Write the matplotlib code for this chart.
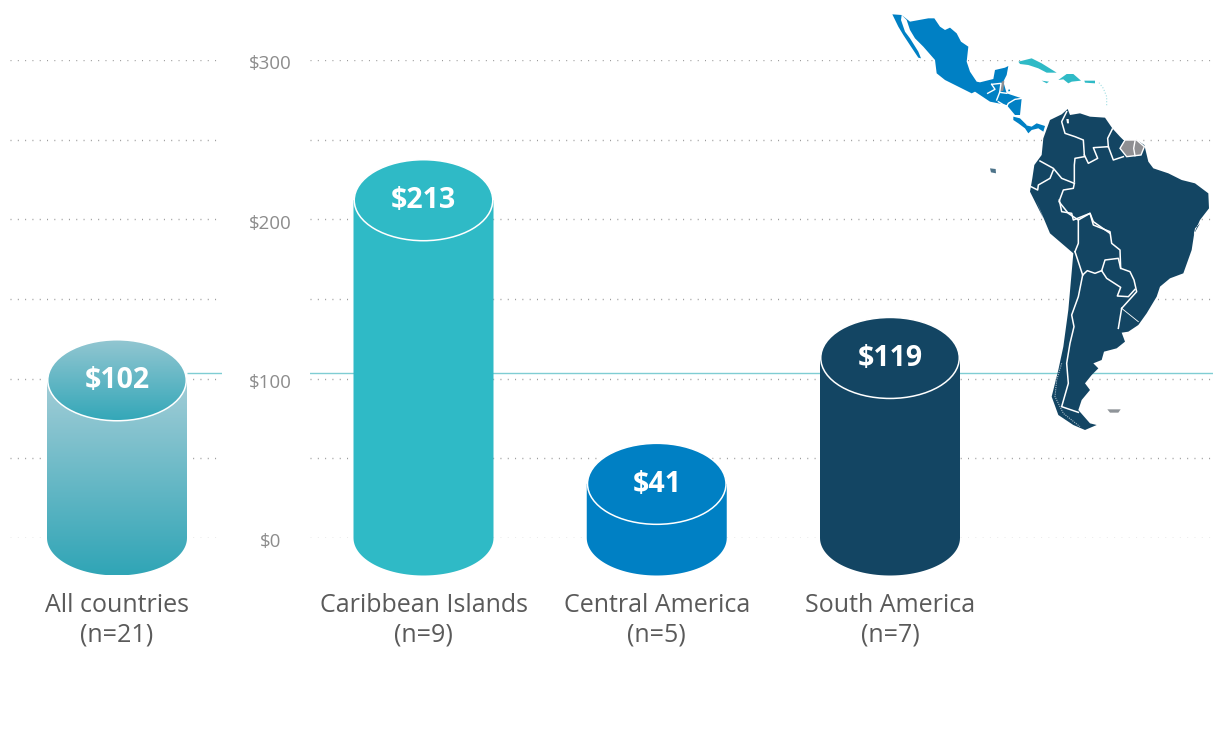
import numpy as np
import matplotlib
matplotlib.use("Agg")
import matplotlib.pyplot as plt
from matplotlib.patches import Ellipse, Polygon, PathPatch
from matplotlib.path import Path
from matplotlib.colors import LinearSegmentedColormap
from matplotlib.transforms import ScaledTranslation

plt.rcParams['font.family'] = ['Open Sans', 'DejaVu Sans']

# ---- data ----
all_label = ["All countries\n(n=21)"]
all_text = ["$102"]
all_level = [99]
region_labels = ["Caribbean Islands\n(n=9)", "Central America\n(n=5)", "South America\n(n=7)"]
region_text = ["$213", "$41", "$119"]
region_level = [212, 34, 113]
region_colors = ["#2fbac6", "#0080c4", "#134563"]
y_ticks = [0, 100, 200, 300]
y_tick_labels = ["$0", "$100", "$200", "$300"]
y_minor = [50, 150, 250]
average = 103.5

W, H = 1213, 745
PX_Y0, PX_Y300 = 538, 60
SLOT = 233.25
CYL_W = 140 / SLOT
TOP_W = 138.5 / SLOT
TOP_H = 2 * 40.5 / ((PX_Y0 - PX_Y300) / 300)
BOT_H = 2 * 37.5 / ((PX_Y0 - PX_Y300) / 300)
TXT = "#5a5a5a"

fig = plt.figure(figsize=(W / 100, H / 100), dpi=100, facecolor="white")


def make_axes(px_left, px_right, px_zero):
    ax = fig.add_axes([px_left / W, 1 - PX_Y0 / H, (px_right - px_left) / W, (PX_Y0 - PX_Y300) / H])
    ax.set_xlim((px_left - px_zero) / SLOT, (px_right - px_zero) / SLOT)
    ax.set_ylim(0, 300)
    for s in ax.spines.values():
        s.set_visible(False)
    ax.patch.set_alpha(0)
    ax.set_yticks(y_ticks)
    ax.set_yticks(y_minor, minor=True)
    ax.grid(True, which="both", axis="y", color="#9a9a9a", lw=1, ls=(0, (0.72, 4.54)), zorder=0)
    ax.tick_params(axis="both", which="both", length=0)
    return ax


def body_path(i, level):
    t = np.linspace(np.pi, 2 * np.pi, 60)
    xs = i + CYL_W / 2 * np.cos(t)
    ys = BOT_H / 2 * np.sin(t)
    verts = list(zip(xs, ys)) + [(i + CYL_W / 2, level), (i - CYL_W / 2, level), (i - CYL_W / 2, 0)]
    return Path(verts)


def label_cyl(ax, i, level, text):
    ax.text(i, level - 0.3, text, ha="center", va="center", color="white",
            fontsize=20.5, fontweight="bold", zorder=6)


ax_l = make_axes(10, 222, 117)
ax_r = make_axes(310, 1213, 423.5)
ax_l.hlines(average, CYL_W / 2, ax_l.get_xlim()[1], color="#7fcdd3", lw=1, zorder=1)
ax_r.axhline(average, color="#7fcdd3", lw=1, zorder=1)

# left, gradient cylinder
lvl = all_level[0]
xl = ax_l.get_xlim()
body_cmap = LinearSegmentedColormap.from_list("b", ["#a3cdd7", "#30a5b6"])
top_cmap = LinearSegmentedColormap.from_list("t", ["#92c6d1", "#33a7b8"])
grad = np.linspace(0, 1, 256).reshape(-1, 1)
im = ax_l.imshow(grad, cmap=body_cmap, aspect="auto", zorder=3,
                 extent=(-CYL_W / 2, CYL_W / 2, -BOT_H / 2, lvl), origin="upper")
p = PathPatch(body_path(0, lvl), fc="none", ec="none", clip_on=False)
ax_l.add_patch(p)
im.set_clip_box(fig.bbox)
im.set_clip_path(p)
e = Ellipse((0, lvl), TOP_W, TOP_H, fc="none", ec="none", clip_on=False)
ax_l.add_patch(e)
im2 = ax_l.imshow(grad, cmap=top_cmap, aspect="auto", zorder=4,
                  extent=(-TOP_W / 2, TOP_W / 2, lvl - TOP_H / 2, lvl + TOP_H / 2), origin="upper")
im2.set_clip_box(fig.bbox)
im2.set_clip_path(e)
ax_l.add_patch(Ellipse((0, lvl), TOP_W, TOP_H, fc="none", ec="white", lw=1.1, zorder=5, clip_on=False))
label_cyl(ax_l, 0, lvl, all_text[0])
ax_l.set_xlim(xl)
ax_l.set_ylim(0, 300)
ax_l.set_xticks([0], all_label)
ax_l.set_yticklabels([])

# right cylinders
for i, (v, t, c) in enumerate(zip(region_level, region_text, region_colors)):
    ax_r.add_patch(PathPatch(body_path(i, v), fc=c, ec="none", zorder=3, clip_on=False))
    ax_r.add_patch(Ellipse((i, v), TOP_W, TOP_H, fc=c, ec="white", lw=1.1, zorder=4, clip_on=False))
    label_cyl(ax_r, i, v, t)
ax_r.set_xticks(range(3), region_labels)
ax_r.set_yticklabels(y_tick_labels, fontsize=13.5, color="#8c8c8c", ha="center")
ax_r.tick_params(axis="y", which="major", pad=28.4)
shift = ScaledTranslation(0, -2.5 / 100, fig.dpi_scale_trans)
for lab in ax_r.get_yticklabels():
    lab.set_transform(lab.get_transform() + shift)

for ax in (ax_l, ax_r):
    ax.tick_params(axis="x", pad=39.5, labelsize=18, labelcolor=TXT)
    for lab in ax.get_xticklabels():
        lab.set_linespacing(1.27)

# ---- decorative map, traced in pixel space ----
m = fig.add_axes([0, 0, 1, 1])
m.set_xlim(0, W)
m.set_ylim(H, 0)
m.axis("off")
m.patch.set_alpha(0)


def za(pts):
    return [(885 + x / 3, 5 + y / 3) for x, y in pts]


def zb(pts):
    return [(975 + x / 3, 50 + y / 3) for x, y in pts]


def zc(pts):
    return [(1025 + x / 3, 105 + y / 3) for x, y in pts]


def z2(pts):
    return [(1000 + x / 3, 200 + y / 3) for x, y in pts]


NAVY, BLUE, TEAL, GRAY = "#134563", "#0080c4", "#2fbac6", "#8f8f92"

sa = zc([(55, 100), (75, 45), (110, 28), (128, 12), (135, 30), (165, 25), (195, 35), (240, 38), (262, 70),
         (285, 95), (295, 105), (335, 105), (358, 120), (370, 170), (385, 190), (430, 205), (470, 225),
         (510, 235), (550, 265), (552, 310), (525, 345), (505, 390)]) + \
    z2([(600, 70), (585, 85), (575, 150), (550, 220), (510, 235), (480, 260), (470, 290),
        (440, 340), (415, 375), (385, 395), (365, 398), (375, 425), (350, 445), (312, 455), (305, 480),
        (280, 490), (295, 505), (275, 525), (255, 550), (270, 570), (245, 600), (235, 630), (270, 670),
        (290, 675), (255, 690), (220, 675), (175, 645), (155, 590), (175, 510), (190, 440), (205, 330),
        (220, 160), (150, 100), (108, 0)]) + \
    zc([(55, 340), (15, 260), (22, 220), (28, 180), (50, 150)])
m.add_patch(Polygon(sa, fc=NAVY, ec="none", zorder=2))

m.add_patch(Polygon(zc([(285, 130), (300, 105), (335, 105), (358, 125), (348, 150), (305, 155)]),
                    fc=GRAY, ec="white", lw=1, zorder=3))
m.plot(*zip(*zc([(330, 108), (326, 130), (330, 152)])), color="white", lw=1, zorder=4)
m.add_patch(Polygon(zc([(124, 42), (131, 42), (132, 55), (126, 55)]), fc="white", ec="none", zorder=3))

borders_c = [
    [(125, 20), (110, 50), (120, 85), (150, 95), (175, 105), (178, 150)],
    [(178, 150), (190, 175), (218, 160), (205, 128), (250, 125)],
    [(250, 125), (248, 100), (262, 72)],
    [(250, 125), (265, 165), (295, 155)],
    [(178, 155), (150, 160), (148, 180), (148, 230)],
    [(45, 168), (85, 190), (110, 220), (148, 235)],
    [(85, 195), (75, 220), (40, 240), (38, 255), (18, 245)],
    [(148, 235), (145, 250), (115, 255), (102, 290), (130, 325), (160, 345), (195, 325), (205, 350), (255, 385)],
]
borders_2 = [
    [(178, 0), (185, 35), (215, 40), (220, 60), (270, 40), (280, 75), (330, 95), (335, 130), (360, 150),
     (362, 205), (390, 215), (402, 240), (410, 275), (365, 325)],
    [(235, 60), (235, 130), (225, 155)],
    [(225, 155), (248, 225)],
    [(248, 225), (262, 212), (285, 220), (305, 212)],
    [(305, 212), (315, 180), (355, 175), (362, 205)],
    [(305, 212), (320, 235), (362, 262), (352, 288), (385, 290), (405, 268)],
    [(248, 225), (235, 290), (215, 345), (222, 380), (210, 430), (200, 490), (205, 550), (185, 620), (235, 637)],
    [(365, 325), (355, 385)],
]
for b in borders_c:
    m.plot(*zip(*zc(b)), color="white", lw=1.1, zorder=4)
for b in borders_2:
    m.plot(*zip(*z2(b)), color="white", lw=1.1, zorder=4)
m.plot(*zip(*z2([(365, 325), (415, 365)])), color="white", lw=0.6, zorder=4)
# fjords of southern Chile
m.plot(*zip(*z2([(185, 490), (170, 540), (165, 590), (190, 640), (240, 680)])), color="#a8bcc8", lw=0.8,
       ls=(0, (1, 1)), zorder=4)

mex = za([(50, 30), (75, 50), (130, 40), (148, 40), (165, 65), (180, 75), (195, 68), (215, 85), (228, 110),
          (250, 125), (245, 170), (255, 200), (275, 230), (285, 232), (325, 222), (330, 195), (360, 188)]) + \
    zb([(100, 48), (95, 75), (85, 95), (95, 130), (140, 145), (135, 195), (120, 195), (95, 165), (70, 160),
        (45, 155), (0, 125)]) + \
    za([(260, 265), (180, 225), (155, 205), (150, 165), (115, 125), (90, 100), (75, 75), (65, 45)])
m.add_patch(Polygon(mex, fc=BLUE, ec="none", zorder=2))
m.add_patch(Polygon(za([(22, 28), (50, 30), (48, 45), (60, 80), (75, 100), (100, 140), (108, 160), (100, 158),
                        (78, 125), (55, 90), (40, 65)]), fc=BLUE, ec="none", zorder=2))
for poly in [
    [(115, 200), (135, 205), (155, 225), (150, 235), (130, 220), (115, 210)],
    [(150, 225), (170, 230), (185, 220), (210, 228), (205, 245), (190, 235), (170, 240), (160, 250), (150, 235)],
]:
    m.add_patch(Polygon(zb(poly), fc=BLUE, ec="none", zorder=2))
m.add_patch(Polygon(zb([(80, 95), (88, 92), (85, 122), (74, 125)]), fc=GRAY, ec="none", zorder=3))
for b in [[(50, 103), (78, 100), (74, 127), (65, 150)],
          [(50, 103), (60, 118), (38, 130)],
          [(70, 155), (95, 170), (100, 160), (120, 148), (142, 145)],
          [(74, 127), (95, 130)]]:
    m.plot(*zip(*zb(b)), color="white", lw=1, zorder=4)

for poly in [
    [(130, 35), (170, 25), (200, 40), (245, 68), (215, 68), (190, 55), (160, 45), (135, 42)],
    [(250, 90), (275, 72), (295, 72), (318, 92), (290, 95), (280, 100), (265, 88)],
    [(200, 92), (222, 95), (215, 100)],
    [(328, 92), (360, 92), (360, 100), (330, 98)],
]:
    m.add_patch(Polygon(zb(poly), fc=TEAL, ec="none", zorder=2))
m.plot(*zip(*zb([(372, 98), (385, 115), (395, 140), (395, 170)])), ls=":", color="#9fdde2", lw=0.8, zorder=2)
m.plot(*zip(*zb([(100, 122), (112, 118)])), ls=":", color=BLUE, lw=1.2, zorder=2)
m.add_patch(Polygon(zc([(-105, 190), (-88, 192), (-87, 205), (-102, 202)]), fc=NAVY, ec="none", alpha=0.75, zorder=2))
m.add_patch(Polygon(z2([(322, 628), (362, 628), (355, 638), (330, 638)]), fc="#8f9499", ec="none", zorder=2))

fig.savefig("out.png", dpi=100)
